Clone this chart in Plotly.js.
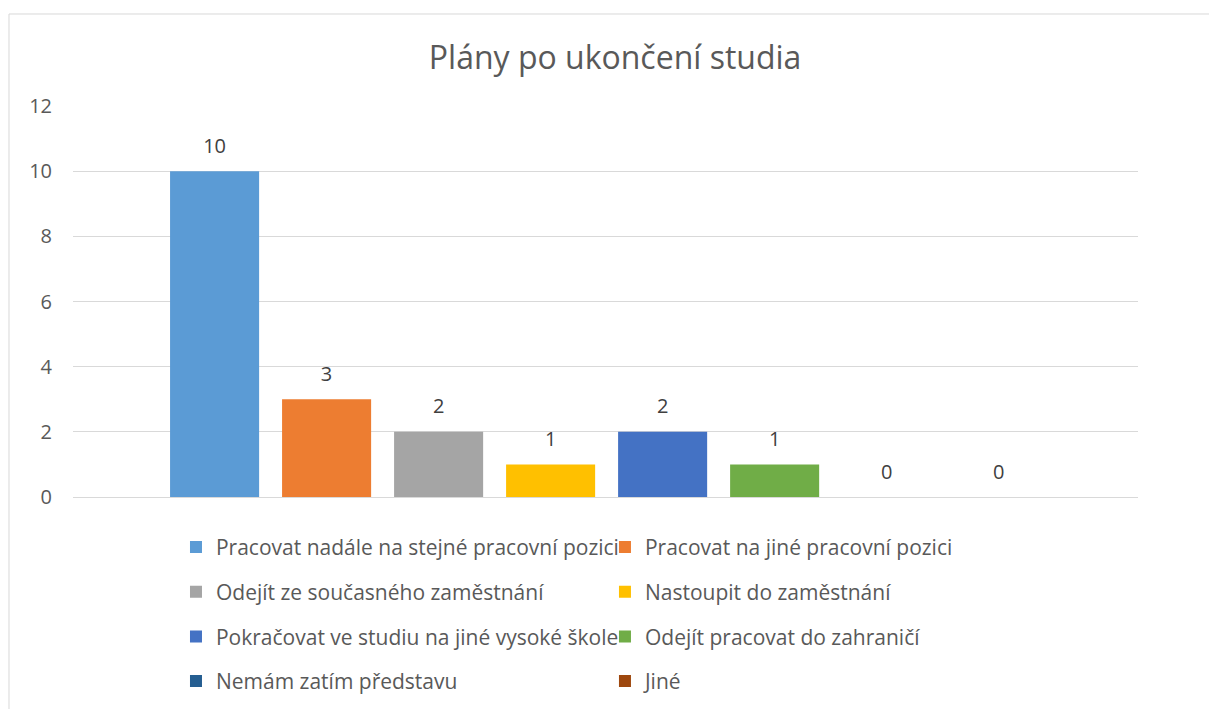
<!DOCTYPE html>
<html>
<head>
<meta charset="utf-8">
<script src="https://cdn.plot.ly/plotly-3.0.1.min.js"></script>
<style>
  html, body { margin: 0; padding: 0; background: #ffffff; }
  #chart { width: 1209px; height: 709px; }
</style>
</head>
<body>
<div id="chart"></div>
<script>
const chartTitle = "Plány po ukončení studia";
const categories = [
  "Pracovat nadále na stejné pracovní pozici",
  "Pracovat na jiné pracovní pozici",
  "Odejít ze současného zaměstnání",
  "Nastoupit do zaměstnání",
  "Pokračovat ve studiu na jiné vysoké škole",
  "Odejít pracovat do zahraničí",
  "Nemám zatím představu",
  "Jiné"
];
const values = [10, 3, 2, 1, 2, 1, 0, 0];
const colors = ["#5B9BD5", "#ED7D31", "#A5A5A5", "#FFC000", "#4472C4", "#70AD47", "#255E91", "#9E480E"];
const yTickValues = [0, 2, 4, 6, 8, 10, 12];

const FONT = "'Open Sans', Lato, sans-serif";
const TEXT_COLOR = "#595959";
const LABEL_COLOR = "#404040";
const GRID = "#d9d9d9";

const traces = categories.map((name, i) => ({
  type: "bar",
  name: name,
  x: [name],
  y: [values[i]],
  marker: { color: colors[i], line: { width: 0 } },
  legend: i % 2 === 0 ? "legend" : "legend2",
  legendgroup: "g" + i,
  hoverinfo: "name+y"
}));

traces.push({
  type: "scatter",
  mode: "markers+text",
  x: categories,
  y: values,
  text: values.map(String),
  textposition: "top center",
  textfont: { family: FONT, size: 20, color: LABEL_COLOR },
  marker: { size: 20, opacity: 0 },
  showlegend: false,
  hoverinfo: "skip",
  cliponaxis: false
});

const legendBase = {
  orientation: "v",
  traceorder: "grouped",
  tracegroupgap: 14.4,
  font: { family: FONT, size: 21, color: TEXT_COLOR },
  bgcolor: "rgba(0,0,0,0)",
  borderwidth: 0,
  xanchor: "left",
  yanchor: "top",
  y: -0.0763
};

const layout = {
  width: 1209,
  height: 709,
  paper_bgcolor: "#ffffff",
  plot_bgcolor: "#ffffff",
  margin: { l: 73, r: 71, t: 106, b: 212, autoexpand: false },
  title: {
    text: chartTitle,
    font: { family: FONT, size: 32, color: TEXT_COLOR },
    xref: "paper",
    x: 0.509,
    xanchor: "center",
    yref: "container",
    y: 0.918,
    yanchor: "middle"
  },
  barmode: "overlay",
  bargap: 0.205,
  xaxis: {
    type: "category",
    categoryorder: "array",
    categoryarray: categories,
    range: [-1.264, 8.244],
    showticklabels: false,
    showgrid: false,
    zeroline: false,
    showline: false,
    ticks: "",
    fixedrange: true
  },
  yaxis: {
    range: [0, 12],
    tickvals: yTickValues,
    ticktext: yTickValues.map(String),
    showgrid: true,
    gridcolor: GRID,
    gridwidth: 1,
    zeroline: true,
    zerolinecolor: GRID,
    zerolinewidth: 1,
    showline: false,
    ticks: "",
    ticklabelstandoff: 20,
    tickfont: { family: FONT, size: 20, color: TEXT_COLOR },
    fixedrange: true
  },
  legend: Object.assign({}, legendBase, { x: 0.0967 }),
  legend2: Object.assign({}, legendBase, { x: 0.4995 }),
  shapes: [{
    type: "rect",
    xref: "paper", yref: "paper",
    x0: -0.0601, x1: 1.3, y0: -1.0, y1: 1.2353,
    line: { color: GRID, width: 1 },
    fillcolor: "rgba(0,0,0,0)",
    layer: "below"
  }],
  showlegend: true
};

Plotly.newPlot("chart", traces, layout, { displayModeBar: false, staticPlot: true });
</script>
</body>
</html>
